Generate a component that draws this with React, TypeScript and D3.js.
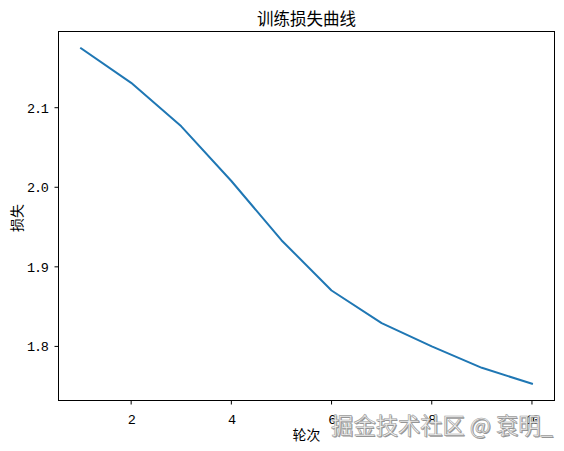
import React from "react";
import * as d3 from "d3";

const epochs = [1, 2, 3, 4, 5, 6, 7, 8, 9, 10];
const losses = [2.1747, 2.1313, 2.0766, 2.0079, 1.9335, 1.8703, 1.8293, 1.8, 1.7731, 1.7531];
const xTicks = [2, 4, 6, 8, 10];
const yTicks = [1.8, 1.9, 2.0, 2.1];
const title = "训练损失曲线";
const xLabel = "轮次";
const yLabel = "损失";
const watermark = "掘金技术社区 @ 袞明_";

const W = 564, H = 451;
const L = 58.5, R = 554.5, T = 31.5, B = 400.5;
const FONT = "'Noto Sans CJK SC', 'DejaVu Sans', sans-serif";
const NUMFONT = "'Liberation Mono', 'DejaVu Sans Mono', monospace";

export default function App() {
  const xMin = d3.min(epochs)!, xMax = d3.max(epochs)!;
  const yMin = d3.min(losses)!, yMax = d3.max(losses)!;
  const xm = (xMax - xMin) * 0.05, ym = (yMax - yMin) * 0.05;
  const x = d3.scaleLinear().domain([xMin - xm, xMax + xm]).range([L, R]);
  const y = d3.scaleLinear().domain([yMin - ym, yMax + ym]).range([B, T]);
  const line = d3.line<number>().x((_, i) => x(epochs[i])).y((d) => y(d));
  return (
    <svg width={W} height={H} style={{ position: "absolute", left: 0, top: 0, background: "#fff" }} fontFamily={FONT}>
      <rect x={0} y={0} width={W} height={H} fill="#fff" />
      <text x={(L + R) / 2} y={24.5} textAnchor="middle" fontSize={16.5} fill="#000">{title}</text>
      <path d={line(losses)!} fill="none" stroke="#1f77b4" strokeWidth={2} strokeLinejoin="round" strokeLinecap="square" />
      <rect x={L} y={T} width={R - L} height={B - T} fill="none" stroke="#000" strokeWidth={1} />
      {xTicks.map((t) => (
        <g key={t}>
          <line x1={x(t)} x2={x(t)} y1={B} y2={B + 4} stroke="#000" strokeWidth={1} />
          <text x={x(t)} y={B + 23} textAnchor="middle" fontSize={13.5} letterSpacing={-1.3} fontFamily={NUMFONT} fill="#000">{t}</text>
        </g>
      ))}
      {yTicks.map((t) => (
        <g key={t}>
          <line x1={L - 4} x2={L} y1={y(t)} y2={y(t)} stroke="#000" strokeWidth={1} />
          <text x={L - 11} y={y(t) + 4.8} textAnchor="end" fontSize={13.5} letterSpacing={-1.3} fontFamily={NUMFONT} fill="#000">{t.toFixed(1)}</text>
        </g>
      ))}
      <text x={(L + R) / 2} y={440} textAnchor="middle" fontSize={13.9} fill="#000">{xLabel}</text>
      <text transform={`translate(21.5, ${(T + B) / 2 + 2}) rotate(-90)`} textAnchor="middle" fontSize={13.9} fill="#000">{yLabel}</text>
      <text x={553} y={434} textAnchor="end" fontSize={22.3} fill="#6f6f6f" opacity={0.75} dx={1} dy={1}>{watermark}</text>
      <text x={553} y={434} textAnchor="end" fontSize={22.3} fill="#f4f4f4" stroke="#9c9c9c" strokeWidth={0.6}>{watermark}</text>
    </svg>
  );
}
